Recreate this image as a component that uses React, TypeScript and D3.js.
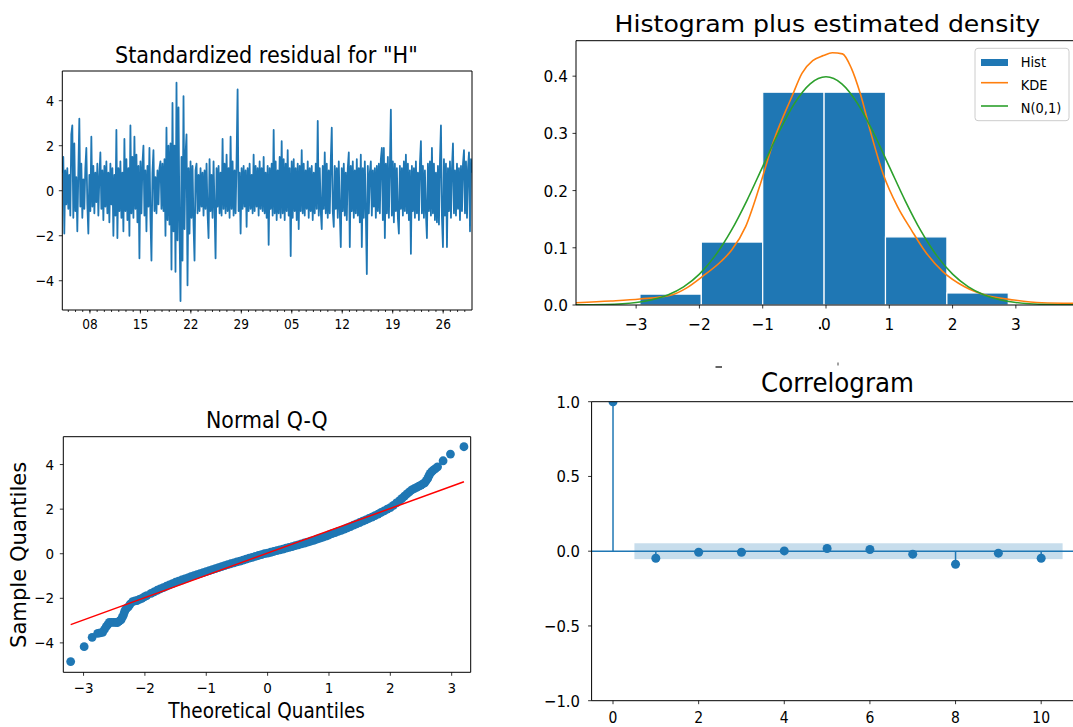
import React from 'react';
import * as d3 from 'd3';

const BLUE = '#1f77b4';
const ORANGE = '#ff7f0e';
const GREEN = '#2ca02c';
const RED = '#ff0000';
const FONT = '"DejaVu Sans", sans-serif';

// ---- Panel 1: standardized residuals ----
const residuals = [
  0.8,1.5,-1.9,0.9,-0.6,1.0,-0.8,0.7,-1.1,2.5,2.9,-1.2,2.1,-0.9,0.6,-1.8,0.8,3.2,-0.7,1.2,
  -1.2,0.5,-0.8,1.0,1.9,-0.6,-1.9,0.7,-0.9,2.4,-0.7,1.1,-1.0,0.8,-0.5,1.2,-1.1,0.6,1.7,-0.8,
  0.9,-1.3,1.1,-0.7,1.3,-1.0,0.8,-1.4,1.2,-0.6,1.0,-2.0,0.7,-1.1,2.7,-2.1,1.0,-0.9,1.3,-1.2,
  0.8,-1.8,2.3,-0.9,1.4,-1.3,1.0,-2.0,2.9,-1.0,1.5,-1.2,2.4,-0.8,1.6,-1.4,1.1,-3.0,1.3,-1.0,
  1.2,2.0,-1.1,0.9,-1.8,1.1,-0.7,1.9,-1.2,-3.1,0.8,1.8,-0.9,0.6,-1.0,0.9,-0.6,1.0,1.3,-0.8,
  1.2,-0.9,1.4,-2.0,2.8,-1.3,2.0,-1.5,2.1,-3.5,3.9,-1.8,2.0,-3.6,4.8,-2.2,3.7,-1.6,-4.9,1.5,
  -3.1,4.2,-1.7,1.6,2.5,-4.2,1.0,-1.9,1.3,-1.2,1.1,-1.5,-3.1,0.9,1.2,-1.0,0.7,-0.9,1.0,-0.7,
  0.8,-1.1,0.9,-0.8,1.2,-1.0,-2.1,1.4,-0.9,0.7,-1.2,1.3,-0.8,-3.0,1.0,-0.7,1.1,-1.0,0.8,-1.1,
  2.3,-0.8,1.2,-1.0,1.6,-0.9,1.0,-1.2,2.4,-0.8,1.3,-1.1,0.9,-1.0,1.4,4.5,-0.9,0.8,-1.9,1.0,
  -0.8,1.1,-0.7,0.9,-1.6,1.0,-0.9,1.2,-0.8,0.7,-1.0,1.6,-0.9,1.1,-0.7,1.0,-1.1,1.3,-0.8,1.0,
  -0.9,1.5,-1.0,0.8,-1.2,1.1,-2.4,1.0,-0.8,1.2,-1.1,2.7,-1.0,1.3,-1.3,0.9,-1.0,1.5,-1.2,2.2,
  -1.0,1.4,-1.3,1.2,-0.9,1.8,-1.1,1.0,-2.9,1.3,-1.2,1.4,-0.9,1.0,-1.3,1.2,-1.7,1.1,-0.9,1.8,
  -1.0,1.2,-1.1,0.9,-0.8,1.3,-1.2,1.0,-0.9,1.1,-1.3,0.8,-1.0,1.2,-0.8,3.1,-1.1,1.0,-0.9,-1.7,
  1.1,-0.8,1.7,-1.0,1.2,-1.2,0.9,-1.0,1.3,2.8,-0.9,-1.6,1.1,-0.8,1.0,-1.2,1.3,-0.9,-2.5,1.0,
  -0.9,1.2,-1.1,0.8,-1.3,1.0,1.7,-2.5,1.1,-0.9,1.3,-1.2,0.9,-1.0,1.4,-1.1,1.0,-1.4,1.6,-2.5,
  1.0,-1.2,1.3,-0.9,-3.7,1.1,-1.0,0.8,1.3,-1.1,0.9,-0.7,1.0,-1.2,1.1,-0.9,1.2,-1.0,1.4,1.9,
  -1.3,1.9,-2.1,1.2,-1.0,1.5,-1.2,1.0,3.6,-1.1,1.3,-1.4,1.2,-0.9,1.0,-1.2,-1.9,1.1,-0.8,1.0,
  -1.1,1.3,-0.9,1.6,-1.0,1.2,-1.3,0.9,-2.8,1.1,-0.9,1.0,-1.2,1.3,-1.0,0.8,-1.3,1.2,2.2,-1.0,
  1.1,-1.2,0.9,-1.0,-2.1,1.2,-0.9,1.3,-1.1,1.9,-1.0,1.2,-1.3,0.8,-1.4,1.1,-1.5,1.3,2.9,-1.2,
  -2.5,1.4,-1.1,1.2,-2.5,1.0,-0.9,1.3,-1.2,1.0,2.1,-1.0,0.9,-1.1,1.2,-0.8,1.0,-1.3,1.1,-0.9,
  1.2,1.8,-1.0,1.3,-1.2,1.0,1.7,-1.8,1.4,0.8,
];
const residStart = new Date(2019, 6, 4, 4);
const residEnd = new Date(2019, 7, 30, 0);
const residYTicks = [-4, -2, 0, 2, 4];

// ---- Panel 2: histogram + densities ----
const histEdges = [-2.94, -1.97, -1.0, -0.03, 0.94, 1.91, 2.88];
const histHeights = [0.019, 0.110, 0.372, 0.372, 0.119, 0.021];
const kdeX = [-3.95,-3.4,-2.94,-2.44,-2.2,-1.95,-1.66,-1.49,-1.27,-1.05,-0.82,-0.54,-0.38,-0.21,-0.04,0.1,0.26,0.4,0.54,0.71,0.9,1.13,1.35,1.57,1.85,2.19,2.52,2.97,3.41,3.95];
const kdeY = [0.004,0.007,0.0105,0.0175,0.03,0.05,0.076,0.096,0.137,0.207,0.289,0.364,0.405,0.427,0.436,0.441,0.439,0.414,0.37,0.30,0.23,0.172,0.131,0.093,0.058,0.032,0.0175,0.0087,0.004,0.003];
const normX = [-3.95,-3.5,-3,-2.75,-2.5,-2.25,-2,-1.75,-1.5,-1.25,-1,-0.75,-0.5,-0.25,0,0.25,0.5,0.75,1,1.25,1.5,1.75,2,2.25,2.5,2.75,3,3.5,3.95];
const normY = [0.0002,0.0009,0.0044,0.0091,0.0175,0.0317,0.054,0.0863,0.1295,0.1826,0.242,0.3011,0.3521,0.3867,0.3989,0.3867,0.3521,0.3011,0.242,0.1826,0.1295,0.0863,0.054,0.0317,0.0175,0.0091,0.0044,0.0009,0.0002];
const histXTicks = [-3, -2, -1, 0, 1, 2, 3];
const histYTicks = [0, 0.1, 0.2, 0.3, 0.4];
const legendLabels = ['Hist', 'KDE', 'N(0,1)'];

// ---- Panel 3: Q-Q ----
const qqTheo = [-3.21,-2.99,-2.86,-2.77,-2.69,-2.63,-2.58,-2.51,-2.45,-2.39,-2.35,-2.32,-2.27,-2.2,-2.13,-2.05,-1.97,-1.9,-1.8,-1.7,-1.6,-1.5,-1.4,-1.3,-1.2,-1.1,-1.0,-0.9,-0.8,-0.7,-0.6,-0.5,-0.4,-0.3,-0.2,-0.1,0,0.1,0.2,0.3,0.4,0.5,0.6,0.7,0.8,0.9,1.0,1.1,1.2,1.3,1.4,1.5,1.6,1.7,1.8,1.9,2.0,2.1,2.19,2.27,2.35,2.43,2.5,2.56,2.61,2.65,2.7,2.77,2.86,2.98,3.2];
const qqSample = [-4.84,-4.17,-3.75,-3.57,-3.53,-3.27,-3.08,-3.08,-3.09,-2.97,-2.75,-2.52,-2.38,-2.15,-2.1,-2.0,-1.88,-1.78,-1.64,-1.52,-1.4,-1.28,-1.18,-1.08,-0.98,-0.89,-0.8,-0.71,-0.62,-0.53,-0.45,-0.37,-0.29,-0.2,-0.12,-0.04,0.03,0.1,0.17,0.25,0.32,0.4,0.48,0.56,0.65,0.74,0.84,0.95,1.05,1.16,1.28,1.4,1.52,1.64,1.78,1.92,2.07,2.28,2.48,2.68,2.86,2.98,3.08,3.18,3.38,3.6,3.75,3.9,4.17,4.47,4.8];
const qqTheoDense = [-2.73,-2.66,-2.605,-2.545,-2.48,-2.42,-2.37,-2.335,-2.3,-2.24,-2.16,-2.09,-2.01,-1.85,-1.75,-1.65,-1.55,-1.45,-1.35,-1.25,-1.15,-1.05,-0.95,-0.85,-0.75,-0.65,-0.55,-0.45,-0.35,-0.25,-0.15,-0.05,0.05,0.15,0.25,0.35,0.45,0.55,0.65,0.75,0.85,0.95,1.05,1.15,1.25,1.35,1.45,1.55,1.65,1.75,1.85,1.95,2.05,2.15,2.23,2.31,2.39,2.465,2.53,2.585,2.63,2.675,2.735];
const qqSampleDense = [-3.55,-3.4,-3.18,-3.08,-3.08,-3.03,-2.86,-2.63,-2.45,-2.26,-2.12,-2.05,-1.94,-1.71,-1.58,-1.46,-1.34,-1.23,-1.13,-1.03,-0.935,-0.845,-0.755,-0.665,-0.575,-0.49,-0.41,-0.33,-0.245,-0.16,-0.08,0.0,0.065,0.135,0.21,0.285,0.36,0.44,0.52,0.6,0.695,0.79,0.9,1.0,1.1,1.22,1.34,1.46,1.58,1.71,1.85,2.0,2.17,2.38,2.58,2.77,2.92,3.03,3.13,3.28,3.5,3.68,3.82];
const qqLineX = [-3.21, 3.2];
const qqLineY = [-3.18, 3.23];
const qqXTicks = [-3, -2, -1, 0, 1, 2, 3];
const qqYTicks = [-4, -2, 0, 2, 4];

// ---- Panel 4: correlogram ----
const acfLags = [0, 1, 2, 3, 4, 5, 6, 7, 8, 9, 10];
const acfValues = [1.0, -0.047, -0.007, -0.007, 0.002, 0.018, 0.011, -0.020, -0.087, -0.013, -0.047];
const acfConf = 0.053;
const acfXTicks = [0, 2, 4, 6, 8, 10];
const acfYTicks = [-1, -0.5, 0, 0.5, 1];

type Box = { l: number; r: number; t: number; b: number };

function Lbl(props: { x: number; y: number; size: number; sx?: number; anchor?: string; children: any }) {
  const { x, y, size, sx = 1, anchor = 'middle', children } = props;
  return (
    <text transform={`translate(${x},${y}) scale(${sx},1)`} fontSize={size} textAnchor={anchor} fontFamily={FONT} fill="#000">
      {children}
    </text>
  );
}

function Title(props: { x: number; y: number; size: number; len: number; children: any; transform?: string }) {
  return (
    <text x={props.transform ? 0 : props.x} y={props.transform ? 0 : props.y} transform={props.transform}
      fontSize={props.size} fontFamily={FONT} textLength={props.len} lengthAdjust="spacingAndGlyphs" fill="#000">
      {props.children}
    </text>
  );
}

export default function App() {
  const fmtInt = d3.format('d');
  const fmt1 = d3.format('.1f');

  // Panel 1
  const p1: Box = { l: 62.3, r: 472, t: 71, b: 310 };
  const x1 = d3.scaleTime().domain([residStart, residEnd]).range([p1.l, p1.r]);
  const y1 = d3.scaleLinear().domain([-5.3, 5.32]).range([p1.b, p1.t]);
  const step = (residEnd.getTime() - residStart.getTime()) / (residuals.length - 1);
  const line1 = d3.line<number>()
    .x((_d, i) => x1(new Date(residStart.getTime() + i * step)))
    .y((d) => y1(d));
  const majors = d3.timeMonday.range(residStart, residEnd);
  const minors = d3.timeDay.range(residStart, residEnd);
  const fmtDay = d3.timeFormat('%d');

  // Panel 2
  const p2: Box = { l: 576, r: 1076, t: 40.7, b: 305 };
  const x2 = d3.scaleLinear().domain([-3.95, 3.95]).range([p2.l, p2.r]);
  const y2 = d3.scaleLinear().domain([0, 0.462]).range([p2.b, p2.t]);
  const curve2 = (xs: number[], ys: number[]) =>
    d3.line<number>().x((d) => x2(d)).y((_d, i) => y2(ys[i])).curve(d3.curveMonotoneX)(xs) as string;

  // Panel 3
  const p3: Box = { l: 63.3, r: 470.7, t: 436.7, b: 672.3 };
  const x3 = d3.scaleLinear().domain([-3.33, 3.31]).range([p3.l, p3.r]);
  const y3 = d3.scaleLinear().domain([-5.32, 5.25]).range([p3.b, p3.t]);

  // Panel 4
  const p4: Box = { l: 591.6, r: 1084, t: 401.7, b: 700.7 };
  const x4 = d3.scaleLinear().domain([-0.5, 11]).range([p4.l, p4.r]);
  const y4 = d3.scaleLinear().domain([-1, 1]).range([p4.b, p4.t]);

  const frame = (b: Box, sides: string) => (
    <g stroke="#000" strokeWidth={1} fill="none">
      {sides.includes('l') && <line x1={b.l} x2={b.l} y1={b.t} y2={b.b} />}
      {sides.includes('r') && <line x1={b.r} x2={b.r} y1={b.t} y2={b.b} />}
      {sides.includes('t') && <line x1={b.l} x2={b.r} y1={b.t} y2={b.t} />}
      {sides.includes('b') && <line x1={b.l} x2={b.r} y1={b.b} y2={b.b} />}
    </g>
  );

  return (
    <div style={{ position: 'absolute', left: 0, top: 0 }}>
      <svg width={1073} height={727} style={{ display: 'block', background: '#fff' }}>
        <defs>
          <clipPath id="c1"><rect x={p1.l} y={p1.t} width={p1.r - p1.l} height={p1.b - p1.t} /></clipPath>
          <clipPath id="c2"><rect x={p2.l} y={p2.t} width={p2.r - p2.l} height={p2.b - p2.t} /></clipPath>
          <clipPath id="c3"><rect x={p3.l} y={p3.t} width={p3.r - p3.l} height={p3.b - p3.t} /></clipPath>
          <clipPath id="c4"><rect x={p4.l} y={p4.t} width={p4.r - p4.l} height={p4.b - p4.t} /></clipPath>
        </defs>
        <rect x={0} y={0} width={1073} height={727} fill="#fff" />

        {/* ===== Panel 1 ===== */}
        <g clipPath="url(#c1)">
          <path d={line1(residuals) as string} fill="none" stroke={BLUE} strokeWidth={1.8} strokeLinejoin="round" />
        </g>
        {frame(p1, 'lrtb')}
        <g stroke="#000" strokeWidth={0.8}>
          {residYTicks.map((t) => <line key={t} x1={p1.l - 3.5} x2={p1.l} y1={y1(t)} y2={y1(t)} />)}
          {minors.map((d, i) => <line key={'m' + i} x1={x1(d)} x2={x1(d)} y1={p1.b} y2={p1.b + 2} />)}
          {majors.map((d, i) => <line key={'M' + i} x1={x1(d)} x2={x1(d)} y1={p1.b} y2={p1.b + 3.5} />)}
        </g>
        {residYTicks.map((t) => (
          <Lbl key={t} x={54} y={y1(t) + 5.3} size={14.5} sx={0.88} anchor="end">{fmtInt(t)}</Lbl>
        ))}
        {majors.map((d, i) => (
          <Lbl key={i} x={x1(d)} y={329.3} size={13.8} sx={0.88}>{fmtDay(d)}</Lbl>
        ))}
        <Title x={115} y={63.3} size={22.9} len={302.7}>Standardized residual for "H"</Title>

        {/* ===== Panel 2 ===== */}
        <g clipPath="url(#c2)">
          {histHeights.map((h, i) => (
            <rect key={i} x={x2(histEdges[i])} y={y2(h)} width={x2(histEdges[i + 1]) - x2(histEdges[i])}
              height={y2(0) - y2(h)} fill={BLUE} stroke="#fff" strokeWidth={1.2} />
          ))}
          <path d={curve2(kdeX, kdeY)} fill="none" stroke={ORANGE} strokeWidth={1.6} />
          <path d={curve2(normX, normY)} fill="none" stroke={GREEN} strokeWidth={1.6} />
        </g>
        {frame(p2, 'ltb')}
        <g stroke="#000" strokeWidth={0.8}>
          {histYTicks.map((t) => <line key={t} x1={p2.l - 3.5} x2={p2.l} y1={y2(t)} y2={y2(t)} />)}
          {histXTicks.map((t) => <line key={t} x1={x2(t)} x2={x2(t)} y1={p2.b} y2={p2.b + 3.5} />)}
        </g>
        {histYTicks.map((t) => (
          <Lbl key={t} x={568} y={y2(t) + 6} size={16.5} sx={0.93} anchor="end">{fmt1(t)}</Lbl>
        ))}
        {histXTicks.map((t) => (
          <Lbl key={t} x={x2(t)} y={330} size={16.5} sx={0.93}>{fmtInt(t)}</Lbl>
        ))}
        <circle cx={820} cy={328} r={1.2} fill="#000" />
        <Title x={614.5} y={31.7} size={22.9} len={425.7}>Histogram plus estimated density</Title>
        {/* legend */}
        <g>
          <rect x={975} y={48.3} width={94} height={72.4} rx={3} fill="#fff" fillOpacity={0.8} stroke="#cccccc" strokeWidth={1} />
          <rect x={981} y={59} width={27} height={7} fill={BLUE} />
          <line x1={981} x2={1008} y1={82.7} y2={82.7} stroke={ORANGE} strokeWidth={1.6} />
          <line x1={981} x2={1008} y1={106} y2={106} stroke={GREEN} strokeWidth={1.6} />
          <Lbl x={1020.7} y={66.7} size={13.7} sx={0.95} anchor="start">{legendLabels[0]}</Lbl>
          <Lbl x={1020.7} y={89.5} size={13.7} sx={0.95} anchor="start">{legendLabels[1]}</Lbl>
          <Lbl x={1020.7} y={112.5} size={13.7} sx={0.95} anchor="start">{legendLabels[2]}</Lbl>
        </g>

        {/* ===== Panel 3 ===== */}
        <g clipPath="url(#c3)">
          {qqTheoDense.map((t, i) => (
            <circle key={'d' + i} cx={x3(t)} cy={y3(qqSampleDense[i])} r={4.4} fill={BLUE} />
          ))}
          {qqTheo.map((t, i) => (
            <circle key={i} cx={x3(t)} cy={y3(qqSample[i])} r={4.4} fill={BLUE} />
          ))}
          <line x1={x3(qqLineX[0])} y1={y3(qqLineY[0])} x2={x3(qqLineX[1])} y2={y3(qqLineY[1])} stroke={RED} strokeWidth={1.5} />
        </g>
        {frame(p3, 'lrtb')}
        <g stroke="#000" strokeWidth={0.8}>
          {qqYTicks.map((t) => <line key={t} x1={p3.l - 3.5} x2={p3.l} y1={y3(t)} y2={y3(t)} />)}
          {qqXTicks.map((t) => <line key={t} x1={x3(t)} x2={x3(t)} y1={p3.b} y2={p3.b + 3.5} />)}
        </g>
        {qqYTicks.map((t) => (
          <Lbl key={t} x={54} y={y3(t) + 5.2} size={14.5} sx={0.93} anchor="end">{fmtInt(t)}</Lbl>
        ))}
        {qqXTicks.map((t) => (
          <Lbl key={t} x={x3(t)} y={693} size={14.5} sx={0.93}>{fmtInt(t)}</Lbl>
        ))}
        <Title x={206} y={428.3} size={22.9} len={121.7}>Normal Q-Q</Title>
        <Title x={168.3} y={718.3} size={20.6} len={196.7}>Theoretical Quantiles</Title>
        <Title x={0} y={0} size={21} len={186.3} transform="translate(26,648) rotate(-90)">Sample Quantiles</Title>

        {/* ===== Panel 4 ===== */}
        <g clipPath="url(#c4)">
          <rect x={x4(0.5)} y={y4(acfConf)} width={x4(10.5) - x4(0.5)} height={y4(-acfConf) - y4(acfConf)} fill={BLUE} fillOpacity={0.25} />
          <line x1={p4.l} x2={p4.r} y1={y4(0)} y2={y4(0)} stroke={BLUE} strokeWidth={1.5} />
          {acfLags.map((l, i) => (
            <line key={'s' + l} x1={x4(l)} x2={x4(l)} y1={y4(0)} y2={y4(acfValues[i])} stroke={BLUE} strokeWidth={1.5} />
          ))}
          {acfLags.map((l, i) => (
            <circle key={'p' + l} cx={x4(l)} cy={y4(acfValues[i])} r={4.5} fill={BLUE} />
          ))}
        </g>
        {frame(p4, 'ltb')}
        <g stroke="#000" strokeWidth={0.8}>
          {acfYTicks.map((t) => <line key={t} x1={p4.l - 3.5} x2={p4.l} y1={y4(t)} y2={y4(t)} />)}
          {acfXTicks.map((t) => <line key={t} x1={x4(t)} x2={x4(t)} y1={p4.b} y2={p4.b + 3.5} />)}
        </g>
        {acfYTicks.map((t) => (
          <Lbl key={t} x={580} y={y4(t) + 6} size={16.5} sx={0.9} anchor="end">{fmt1(t)}</Lbl>
        ))}
        {acfXTicks.map((t) => (
          <Lbl key={t} x={x4(t)} y={722.5} size={15.5} sx={0.9}>{fmtInt(t)}</Lbl>
        ))}
        <Title x={761} y={391.7} size={27} len={153}>Correlogram</Title>
        <line x1={715.5} x2={722} y1={367} y2={367} stroke="#000" strokeWidth={1.2} />
        <line x1={838} x2={838} y1={362.5} y2={365.5} stroke="#444" strokeWidth={1} />
      </svg>
    </div>
  );
}
